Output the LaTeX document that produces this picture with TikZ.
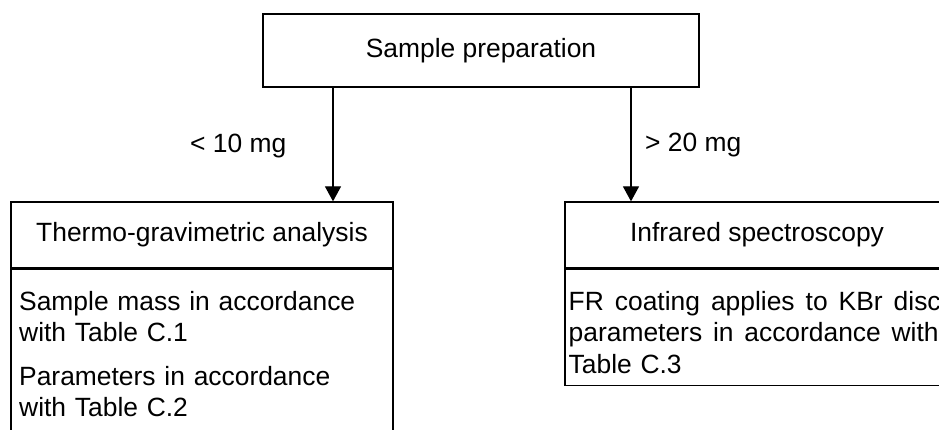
\documentclass[tikz,border=0pt]{standalone}
\usepackage{fontspec}
\setmainfont{Liberation Sans}
\usetikzlibrary{arrows.meta}
\begin{document}
\begin{tikzpicture}[x=1pt,y=-1pt,
  font=\fontsize{26.4}{31.5}\selectfont,
  box/.style={draw,line width=1.3pt,inner sep=0},
  arr/.style={line width=1.3pt,-{Triangle[length=15pt,width=16pt]}},
  txt/.style={inner sep=0,anchor=base west,align=left}]
\useasboundingbox (0,0) rectangle (939,430);
\clip (0,0) rectangle (939,430);
\fill[white] (0,0) rectangle (939,430);
% top box
\node[box,minimum width=436pt,minimum height=73pt] (prep) at (481,50.5) {Sample preparation};
% left column
\node[box,minimum width=382pt,minimum height=66pt] (tga) at (202,235) {Thermo-gravimetric analysis};
\node[box,minimum width=382pt,minimum height=200pt,anchor=north west] (tgab) at (tga.south west) {};
\node[txt,text width=370pt] (tgat1) at (19,310) {Sample mass in accordance\\with Table C.1};
\node[txt,text width=370pt] (tgat2) at (19,385) {Parameters in accordance\\with Table C.2};
% right column
\node[box,minimum width=384pt,minimum height=66pt] (ir) at (757,235) {Infrared spectroscopy};
\node[box,minimum width=384pt,minimum height=116pt,anchor=north west] (irb) at (ir.south west) {};
\node[txt,text width=380pt] (irt) at (568.5,310) {\makebox[372pt][l]{FR\hfill coating\hfill applies\hfill to\hfill KBr\hfill disc}\\\makebox[370pt][l]{parameters\hfill in\hfill accordance\hfill with}\\Table C.3};
% connectors
\coordinate (la) at (333,0);
\coordinate (ra) at (631,0);
\draw[arr] (prep.south -| la) -- (tga.north -| la);
\draw[arr] (prep.south -| ra) -- (ir.north -| ra);
\node[txt] (lowlbl) at (190,152.5) {< 10 mg};
\node[txt] (highlbl) at (645,152) {> 20 mg};
\end{tikzpicture}
\end{document}
